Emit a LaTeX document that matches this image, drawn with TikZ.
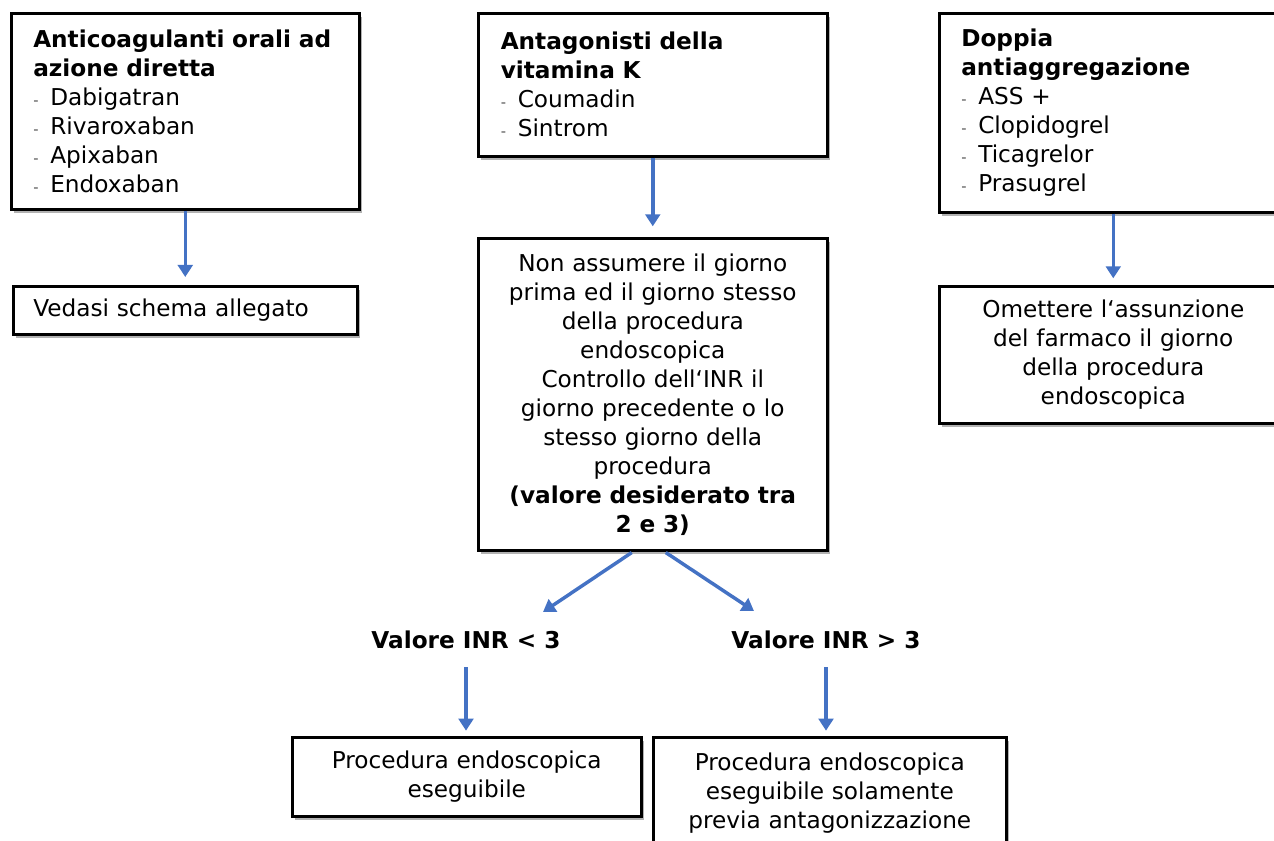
\documentclass[tikz,border=0pt]{standalone}
\usepackage{fontspec}
\setmainfont{DejaVu Sans}
\usetikzlibrary{positioning,calc,arrows.meta,shadows}
\definecolor{arrowblue}{RGB}{68,114,196}
\newcommand{\dashitem}{\makebox[12.75pt][l]{\fontsize{11}{11}\selectfont\color{black!70}-}}

\tikzset{
  box/.style={draw, line width=1.9pt, fill=white, inner sep=0pt, anchor=north west,
    drop shadow={shadow xshift=2.2pt, shadow yshift=-2.8pt, fill=black!55, opacity=0.55}},
  boxsize/.style 2 args={minimum width=#1*0.75pt, minimum height=#2*0.75pt},
  listbox/.style={box, align=left, text width=228pt},
  textbox/.style={box, align=center, text width=255pt},
  label/.style={font=\fontsize{17.4}{21.75}\selectfont\bfseries},
  arr/.style={draw=arrowblue, line width=2.6pt, -{Triangle[width=11pt,length=9pt]}}
}

\begin{document}
\begin{tikzpicture}[x=0.75pt, y=-0.75pt,
  every node/.style={font=\fontsize{17.4}{21.75}\selectfont}]
  \useasboundingbox (0,0) rectangle (1274,841);
  \clip (0,0) rectangle (1274,841);

  % top row
  \node[listbox, boxsize={348}{196}] (doac) at (10,12)
    {\textbf{Anticoagulanti orali ad}\\ \textbf{azione diretta}\\
     \dashitem Dabigatran\\ \dashitem Rivaroxaban\\ \dashitem Apixaban\\ \dashitem Endoxaban};
  \node[listbox, boxsize={349}{143}] (avk) at (477,12)
    {\textbf{Antagonisti della}\\ \textbf{vitamina K}\\
     \dashitem Coumadin\\ \dashitem Sintrom};
  \node[listbox, boxsize={348}{199}] (dapt) at (938,12)
    {\textbf{Doppia}\\ \textbf{antiaggregazione}\\
     \dashitem ASS +\\ \dashitem Clopidogrel\\ \dashitem Ticagrelor\\ \dashitem Prasugrel};

  % second row
  \node[listbox, boxsize={344}{48}] (schema) at (12,285) {Vedasi schema allegato};
  \node[textbox, boxsize={349}{312}] (inr) at (477,237)
    {Non assumere il giorno\\ prima ed il giorno stesso\\ della procedura\\ endoscopica\\
     Controllo dell‘INR il\\ giorno precedente o lo\\ stesso giorno della\\ procedura\\
     \textbf{(valore desiderato tra}\\ \textbf{2 e 3)}};
  \node[textbox, boxsize={348}{137}] (omit) at (938,285)
    {Omettere l‘assunzione\\ del farmaco il giorno\\ della procedura\\ endoscopica};

  % INR values
  \node[label] (low) at (466,640) {Valore INR < 3};
  \node[label] (high) at (826,640) {Valore INR > 3};

  % bottom row
  \node[textbox, boxsize={349}{79}] (ok) at (291,736)
    {Procedura endoscopica\\ eseguibile};
  \node[textbox, boxsize={353}{112}] (reverse) at (652,736)
    {Procedura endoscopica\\ eseguibile solamente\\ previa antagonizzazione};

  % connectors
  \coordinate (lowtip) at (543,612);
  \coordinate (hightip) at (754,611);
  \draw[arr, shorten >=6pt] (doac.south) -- (schema.north);
  \draw[arr, shorten >=8pt] (avk.south) -- (inr.north);
  \draw[arr, shorten >=5pt] (dapt.south) -- (omit.north);
  \draw[arr] ($(inr.south)+(-21,1)$) -- (lowtip);
  \draw[arr] ($(inr.south)+(13,1)$) -- (hightip);
  \draw[arr, shorten <=10pt, shorten >=4pt] (low.south) -- (low.south |- ok.north);
  \draw[arr, shorten <=10pt, shorten >=4pt] (high.south) -- (high.south |- reverse.north);
\end{tikzpicture}
\end{document}
